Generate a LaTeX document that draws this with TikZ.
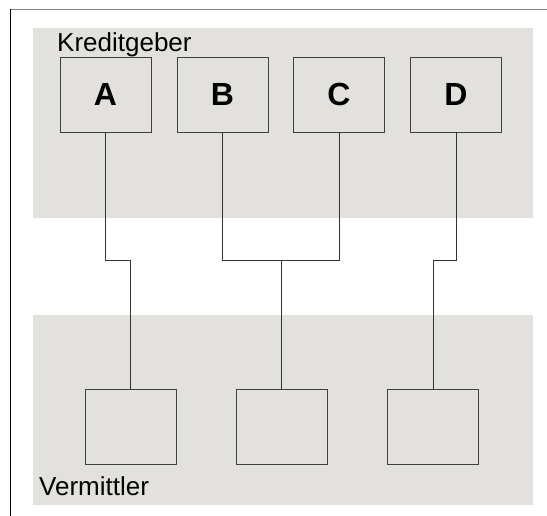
\documentclass[tikz,border=0pt]{standalone}
\usepackage{fontspec}
\setmainfont{Liberation Sans}
\usetikzlibrary{calc}
\definecolor{bandgray}{HTML}{E2E1DD}
\definecolor{boxline}{HTML}{404040}
\begin{document}
\begin{tikzpicture}[x=1pt,y=-1pt,
  band/.style={fill=bandgray,draw=none},
  party/.style={draw=boxline,line width=0.9pt,minimum width=91pt,minimum height=75pt,inner sep=0pt,
    font=\fontsize{32}{36}\selectfont\bfseries},
  link/.style={draw=black!80,line width=0.8pt},
  caption/.style={font=\fontsize{26}{30}\selectfont,inner sep=0pt,anchor=base west}]
  \useasboundingbox (0,0) rectangle (547,516);
  % outer frame (top and left edges only)
  \draw[black!50,line width=1.3pt] (10,9.5) -- (547,9.5);
  \draw[black,line width=0.8pt] (10,9.5) -- (10,516);
  % shaded bands
  \fill[band] (33,28) rectangle (533,218);
  \fill[band] (33,315) rectangle (533,505);
  % labels of the bands
  \node[caption] (kg) at (57,52) {Kreditgeber};
  \node[caption] (vm) at (39,495) {Vermittler};
  % lenders
  \node[party] (A) at (105.5,94.5) {A};
  \node[party] (B) at (222.5,94.5) {B};
  \node[party] (C) at (339,94.5) {C};
  \node[party] (D) at (456,94.5) {D};
  % brokers
  \node[party] (V1) at (130.5,427) {};
  \node[party] (V2) at (281.5,427) {};
  \node[party] (V3) at (433,427) {};
  % level of the horizontal connector runs
  \coordinate (mid) at (0,260);
  \draw[link] (A.south) |- (V1.north |- mid) -- (V1.north);
  \draw[link] (B.south) |- (C.south |- mid) -- (C.south);
  \draw[link] (V2.north |- mid) -- (V2.north);
  \draw[link] (D.south) |- (V3.north |- mid) -- (V3.north);
\end{tikzpicture}
\end{document}
